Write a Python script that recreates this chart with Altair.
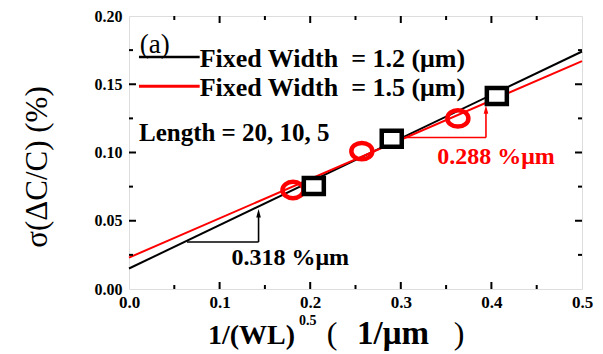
import altair as alt
import pandas as pd

# ---- data ----
w12_x = [0.204, 0.290, 0.406]
w12_y = [0.0755, 0.110, 0.1414]
w15_x = [0.181, 0.257, 0.363]
w15_y = [0.0725, 0.101, 0.125]

fit_x = [0.0, 0.5]
fit12_y = [0.015, 0.174]
fit15_y = [0.023, 0.167]

x_ticks = [0.0, 0.1, 0.2, 0.3, 0.4, 0.5]
y_ticks = [0.0, 0.05, 0.10, 0.15, 0.20]
x_major_in = [0.1, 0.2, 0.3, 0.4]
x_minor_in = [0.05, 0.15, 0.25, 0.35, 0.45]
y_major_in = [0.05, 0.10, 0.15]
y_minor_in = [0.025, 0.075, 0.125, 0.175]

W, H = 453, 273
FONT = "Liberation Serif"

xs = alt.Scale(domain=[0, 0.5], nice=False, zero=False)
ys = alt.Scale(domain=[0, 0.2], nice=False, zero=False)

pts12 = pd.DataFrame({"x": w12_x, "y": w12_y})
pts15 = pd.DataFrame({"x": w15_x, "y": w15_y})
fit12 = pd.DataFrame({"x": fit_x, "y": fit12_y})
fit15 = pd.DataFrame({"x": fit_x, "y": fit15_y})

X = alt.X("x:Q", scale=xs, axis=alt.Axis(values=x_ticks, format=".1f", title=None, tickSize=0,
                                          domain=False, grid=False, labelPadding=5, labelFlush=False,
                                          labelFont=FONT, labelFontSize=17, labelFontWeight="bold",
                                          labelColor="black"))
Y = alt.Y("y:Q", scale=ys, axis=alt.Axis(values=y_ticks, format=".2f", title=None, tickSize=0,
                                          domain=False, grid=False, labelPadding=7, labelFlush=False,
                                          labelFont=FONT, labelFontSize=16, labelFontWeight="bold",
                                          labelColor="black"))

base_axes = alt.Chart(fit12).mark_line(color="black", strokeWidth=2).encode(x=X, y=Y)
line15 = alt.Chart(fit15).mark_line(color="#ff0000", strokeWidth=2).encode(
    x=alt.X("x:Q", scale=xs), y=alt.Y("y:Q", scale=ys))

ell = "M-1,0 A1,0.78 0 1,0 1,0 A1,0.78 0 1,0 -1,0 Z"
rect = "M-1,-0.8 L1,-0.8 L1,0.8 L-1,0.8 Z"
circ = alt.Chart(pts15).mark_point(shape=ell, size=441, filled=False, color="#ff0000",
                                   strokeWidth=4.5, opacity=1).encode(
    x=alt.X("x:Q", scale=xs), y=alt.Y("y:Q", scale=ys))
sq = alt.Chart(pts12).mark_point(shape=rect, size=400, filled=True, fill="white", stroke="black",
                                 strokeWidth=4.5, opacity=1).encode(
    x=alt.X("x:Q", scale=xs), y=alt.Y("y:Q", scale=ys))

# inward ticks
def tick_layer(vals, side, length):
    df = pd.DataFrame({"v": vals})
    c = alt.Chart(df).mark_rule(color="black", strokeWidth=2)
    if side == "bottom":
        return c.encode(x=alt.X("v:Q", scale=xs), y=alt.value(H), y2=alt.value(H - length))
    if side == "top":
        return c.encode(x=alt.X("v:Q", scale=xs), y=alt.value(0), y2=alt.value(length))
    if side == "left":
        return c.encode(y=alt.Y("v:Q", scale=ys), x=alt.value(0), x2=alt.value(length))
    return c.encode(y=alt.Y("v:Q", scale=ys), x=alt.value(W), x2=alt.value(W - length))

ticks = []
for side in ["bottom", "top"]:
    ticks.append(tick_layer(x_major_in, side, 7))
    ticks.append(tick_layer(x_minor_in, side, 4))
for side in ["left", "right"]:
    ticks.append(tick_layer(y_major_in, side, 7))
    ticks.append(tick_layer(y_minor_in, side, 4))

# slope triangles
def seg(x1, x2, y1, y2, color, width=1.6):
    df = pd.DataFrame({"x": [x1], "x2": [x2], "y": [y1], "y2": [y2]})
    return alt.Chart(df).mark_rule(color=color, strokeWidth=width).encode(
        x=alt.X("x:Q", scale=xs), x2="x2:Q", y=alt.Y("y:Q", scale=ys), y2="y2:Q")

def arrowhead(x, y, color):
    df = pd.DataFrame({"x": [x], "y": [y]})
    return alt.Chart(df).mark_point(shape="M0,-1 L0.55,1 L-0.55,1 Z", size=70, filled=True,
                                    color=color, opacity=1).encode(
        x=alt.X("x:Q", scale=xs), y=alt.Y("y:Q", scale=ys))

tri_black = [seg(0.064, 0.143, 0.0344, 0.0344, "black"), seg(0.143, 0.143, 0.0344, 0.054, "black"),
             arrowhead(0.143, 0.0555, "black")]
tri_red = [seg(0.302, 0.394, 0.111, 0.111, "#ff0000"), seg(0.394, 0.394, 0.111, 0.130, "#ff0000"),
           arrowhead(0.394, 0.1315, "#ff0000")]

# legend
leg_lines = [seg(0.011, 0.078, 0.170, 0.170, "black", 2.5), seg(0.011, 0.078, 0.1486, 0.1486, "#ff0000", 3)]

def txt(x, y, s, size, color="black", weight="bold", align="left", baseline="middle"):
    df = pd.DataFrame({"x": [x], "y": [y], "t": [s]})
    return alt.Chart(df).mark_text(font=FONT, fontSize=size, fontWeight=weight, color=color,
                                   align=align, baseline=baseline).encode(
        x=alt.X("x:Q", scale=xs), y=alt.Y("y:Q", scale=ys), text="t:N")

texts = [
    txt(0.012, 0.1786, "(a)", 27, weight="normal"),
    txt(0.078, 0.1688, "Fixed Width\u00a0\u00a0= 1.2 (μm)", 26),
    txt(0.078, 0.1474, "Fixed Width\u00a0\u00a0= 1.5 (μm)", 26),
    txt(0.011, 0.1142, "Length = 20, 10, 5", 25),
    txt(0.178, 0.0227, "0.318 %μm", 24, align="center"),
    txt(0.405, 0.0966, "0.288 %μm", 24, color="#ff0000", align="center"),
]

# axis titles as pixel-placed text
def ptxt(px, py, s, size, weight="bold", angle=0, align="left", baseline="alphabetic"):
    df = pd.DataFrame({"t": [s]})
    kw = dict(font=FONT, fontSize=size, fontWeight=weight, color="black", align=align, baseline=baseline)
    if angle:
        kw["angle"] = angle
    return alt.Chart(df).mark_text(**kw).encode(x=alt.value(px), y=alt.value(py), text="t:N")

titles = [
    ptxt(79, 328, "1/(WL)", 28),
    ptxt(170, 309, "0.5", 14),
    ptxt(203, 328, "(", 32, weight="normal", align="center"),
    ptxt(264, 328, "1/μm", 33, align="center"),
    ptxt(330, 328, ")", 32, weight="normal", align="center"),
    ptxt(-91, 151, "σ(ΔC/C) (%)", 31, weight="normal", angle=270, align="center", baseline="middle"),
]

chart = alt.layer(base_axes, line15, *ticks, *tri_black, *tri_red, *leg_lines, circ, sq, *texts, *titles).properties(
    width=W, height=H,
    autosize=alt.AutoSizeParams(type="none"),
    padding={"left": 121, "top": 8, "right": 12, "bottom": 64},
).configure_view(stroke="black", strokeWidth=2.5).configure(background="white")

chart.save("out.html", embed_options={"renderer": "svg", "actions": False})
